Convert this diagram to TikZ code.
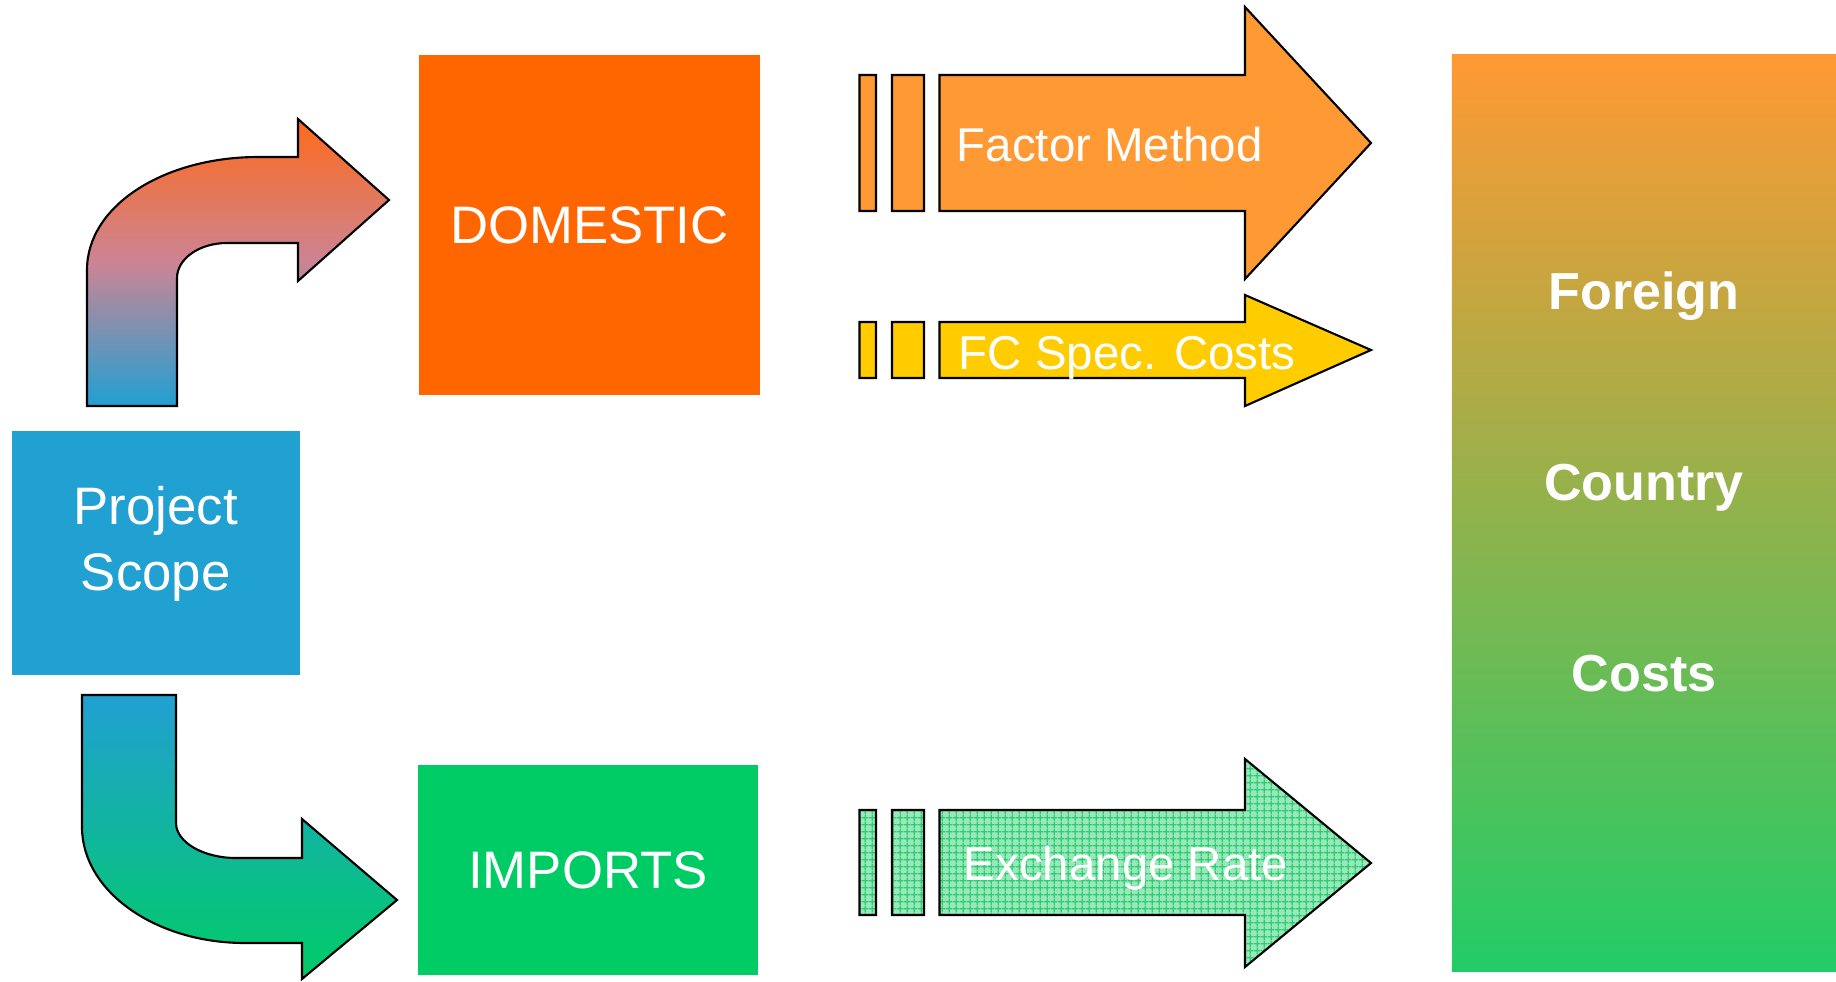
\documentclass[tikz,border=0pt]{standalone}
\usepackage{fontspec}
\setmainfont{Liberation Sans}
\usepackage{xcolor}
\usepackage{tikz}
\usetikzlibrary{positioning,patterns.meta}
\definecolor{scopeblue}{HTML}{21A0D2}
\definecolor{domorange}{HTML}{FF6600}
\definecolor{impgreen}{HTML}{00CC66}
\definecolor{arrowtop}{HTML}{FF6A1A}
\definecolor{arrowmid}{HTML}{CC8494}
\definecolor{factorange}{HTML}{FF9933}
\definecolor{specyellow}{HTML}{FFCC00}
\definecolor{ratefill}{HTML}{99E8BB}
\definecolor{rategrid}{HTML}{2ECC71}
\definecolor{fccgreen}{HTML}{22CC66}

\tikzdeclarepattern{
  name=finegrid, type=uncolored,
  bounding box={(0pt,0pt) and (1.9pt,1.9pt)},
  tile size={(1.9pt,1.9pt)},
  code={\draw[line width=0.35pt] (0pt,0.95pt) -- (1.9pt,0.95pt) (0.95pt,0pt) -- (0.95pt,1.9pt);}
}

\begin{document}
\begin{tikzpicture}[
  x=0.01cm, y=-0.01cm,
  blk/.style={inner sep=0pt, text=white, align=center,
              font=\fontsize{15}{18.8}\selectfont},
  shp/.style={draw=black, line width=0.6pt, line join=miter},
  arrlbl/.style={anchor=base west, inner sep=0pt, text=white,
                 font=\fontsize{13.5}{16}\selectfont},
  fcclbl/.style={inner sep=0pt, text=white, align=center,
                 font=\fontsize{14.8}{54.3}\selectfont\bfseries}
]
  \fill[white] (0,0) rectangle (1836,981);
  \useasboundingbox (0,0) rectangle (1836,981);
  % boxes
  \node[blk, fill=scopeblue, minimum width=2.88cm, minimum height=2.435cm,
        text depth=8.1pt] (scope) at (155.75,552.75) {Project\\Scope};
  \node[blk, fill=domorange, minimum width=3.41cm, minimum height=3.40cm]
        (dom) at (589.5,225) {DOMESTIC};
  \node[blk, fill=impgreen, minimum width=3.40cm, minimum height=2.10cm]
        (imp) at (588,870) {IMPORTS};
  \node[inner sep=0pt, minimum width=3.84cm, minimum height=9.16cm,
        top color=factorange, bottom color=fccgreen] (fcc) at (1644,513) {};
  \node[fcclbl] (fcctxt) at (1644,481.5) {Foreign\\Country\\Costs};
  % bent arrows out of the scope box
  \path[shp, top color=arrowtop, bottom color=scopeblue, middle color=arrowmid]
    (87,406) -- (87,270) .. controls (87,205) and (165,157) .. (258,157)
    -- (298,157) -- (298,119) -- (389,200) -- (298,281) -- (298,243)
    -- (227,243) .. controls (199,243) and (177,259) .. (177,278)
    -- (177,406) -- cycle;
  \path[shp, top color=scopeblue, bottom color=impgreen]
    (82,695) -- (176,695) -- (176,823) .. controls (176,842) and (203,858) .. (236,858)
    -- (302,858) -- (302,819) -- (397,900) -- (302,979) -- (302,943)
    -- (245,943) .. controls (155,943) and (82,891) .. (82,827) -- cycle;
  % striped block arrows
  \draw[shp, fill=factorange]
    (859.5,75) rectangle (876,211) (892,75) rectangle (924,211)
    (939.5,75) -- (1245,75) -- (1245,7) -- (1371,143) -- (1245,279)
    -- (1245,211) -- (939.5,211) -- cycle;
  \draw[shp, fill=specyellow]
    (859.5,322) rectangle (876,378) (892,322) rectangle (924,378)
    (939.5,322) -- (1245,322) -- (1245,295) -- (1371,350) -- (1245,406)
    -- (1245,378) -- (939.5,378) -- cycle;
  \draw[shp, preaction={fill=ratefill}, pattern=finegrid, pattern color=rategrid]
    (859.5,810) rectangle (876,915) (892,810) rectangle (924,915)
    (939.5,810) -- (1245,810) -- (1245,759) -- (1371,863) -- (1245,967)
    -- (1245,915) -- (939.5,915) -- cycle;
  \node[arrlbl] (fm) at (956,161) {Factor Method};
  \node[arrlbl] (fcs) at (958,369) {FC Spec. Costs};
  \node[arrlbl] (xr) at (963,880) {Exchange Rate};
\end{tikzpicture}
\end{document}
